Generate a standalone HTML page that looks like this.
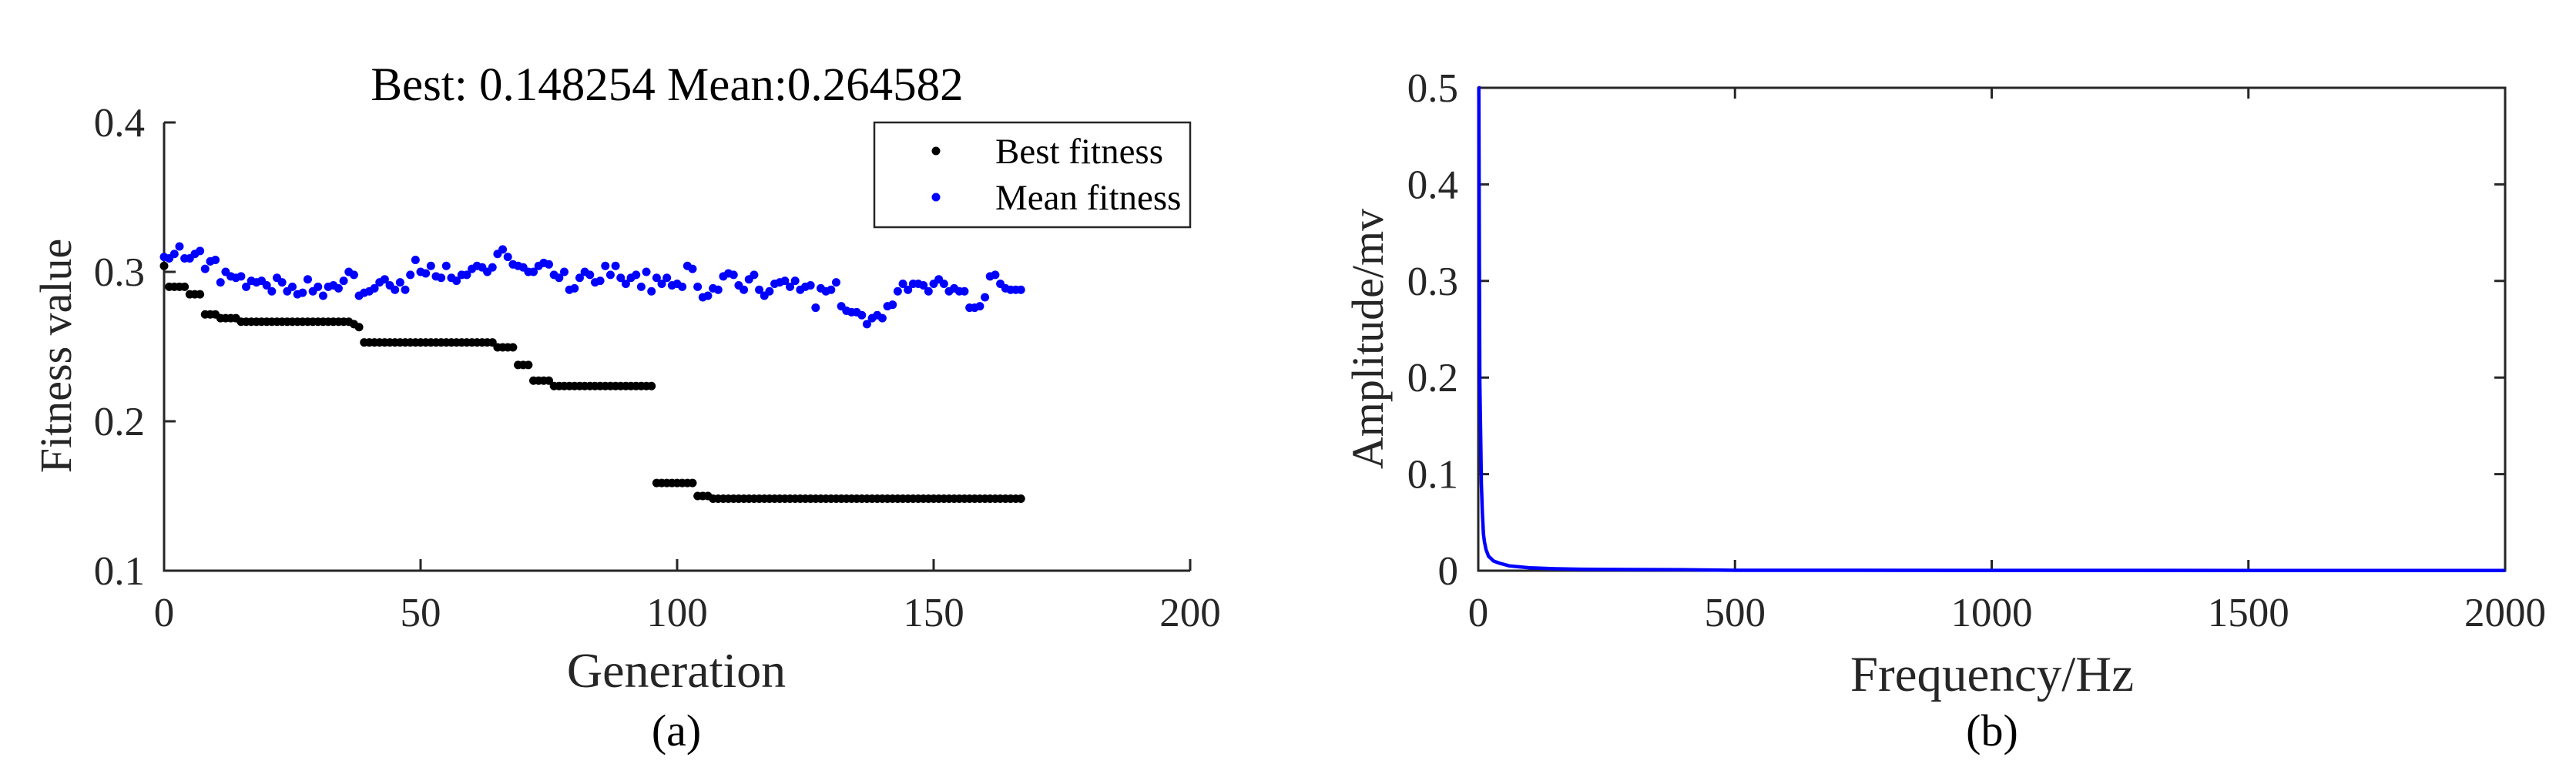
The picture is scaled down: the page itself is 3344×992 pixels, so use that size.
<!DOCTYPE html>
<html><head><meta charset="utf-8"><style>
html,body{margin:0;padding:0;background:#fff;}
svg{display:block;font-family:"Liberation Serif",serif;}
</style></head><body>
<svg id="fig" width="3344" height="992" viewBox="0 0 3344 992">
<g id="pa"></g>
<g id="pb"></g>
</svg>
<script>
const genTicks=[0,50,100,150,200];
const fitTicks=[0.1,0.2,0.3,0.4];
const fitTickLabels=["0.1","0.2","0.3","0.4"];
const bestFitness=[0.304,0.290,0.290,0.290,0.290,0.285,0.285,0.285,0.2715,0.2715,0.2715,0.269,0.269,0.269,0.269,
0.2666,0.2666,0.2666,0.2666,0.2666,0.2666,0.2666,0.2666,0.2666,0.2666,0.2666,0.2666,0.2666,0.2666,0.2666,0.2666,0.2666,0.2666,0.2666,0.2666,0.2666,0.2666,
0.265,0.263,
0.2528,0.2528,0.2528,0.2528,0.2528,0.2528,0.2528,0.2528,0.2528,0.2528,0.2528,0.2528,0.2528,0.2528,0.2528,0.2528,0.2528,0.2528,0.2528,0.2528,0.2528,0.2528,0.2528,0.2528,0.2528,0.2528,
0.2495,0.2495,0.2495,0.2495,0.2377,0.2377,0.2377,0.2272,0.2272,0.2272,0.2272,
0.2236,0.2236,0.2236,0.2236,0.2236,0.2236,0.2236,0.2236,0.2236,0.2236,0.2236,0.2236,0.2236,0.2236,0.2236,0.2236,0.2236,0.2236,0.2236,0.2236,
0.1587,0.1587,0.1587,0.1587,0.1587,0.1587,0.1587,0.1587,0.150,0.150,0.150,
0.1482,0.1482,0.1482,0.1482,0.1482,0.1482,0.1482,0.1482,0.1482,0.1482,0.1482,0.1482,0.1482,0.1482,0.1482,0.1482,0.1482,0.1482,0.1482,0.1482,
0.1482,0.1482,0.1482,0.1482,0.1482,0.1482,0.1482,0.1482,0.1482,0.1482,0.1482,0.1482,0.1482,0.1482,0.1482,0.1482,0.1482,0.1482,0.1482,0.1482,
0.1482,0.1482,0.1482,0.1482,0.1482,0.1482,0.1482,0.1482,0.1482,0.1482,0.1482,0.1482,0.1482,0.1482,0.1482,0.1482,0.1482,0.1482,0.1482,0.1482,0.1482];
const meanFitness=[0.310,0.309,0.312,0.317,0.309,0.309,0.312,0.314,0.302,0.307,
0.308,0.293,0.300,0.297,0.296,0.297,0.290,0.294,0.293,0.294,
0.291,0.287,0.296,0.293,0.287,0.290,0.285,0.286,0.295,0.287,
0.290,0.284,0.290,0.291,0.289,0.294,0.300,0.298,0.284,0.286,
0.287,0.289,0.293,0.295,0.291,0.288,0.293,0.288,0.298,0.308,
0.300,0.299,0.304,0.297,0.296,0.304,0.296,0.294,0.298,0.298,
0.302,0.304,0.303,0.300,0.303,0.312,0.315,0.310,0.305,0.304,
0.303,0.300,0.300,0.304,0.306,0.305,0.298,0.296,0.300,0.288,
0.289,0.296,0.300,
0.298,0.293,0.294,0.304,0.298,0.304,0.296,0.292,0.296,0.298,
0.290,0.300,0.287,0.296,0.292,0.296,0.291,0.292,0.290,0.304,
0.302,0.290,0.283,0.284,0.289,0.288,0.297,0.299,0.298,0.291,
0.288,0.295,0.298,0.288,0.284,0.287,0.292,0.293,0.294,0.290,
0.294,0.288,0.290,0.291,0.276,0.289,0.287,0.288,0.293,0.277,
0.274,0.273,0.273,0.271,0.265,0.269,0.271,0.269,0.277,0.278,
0.287,0.292,0.288,0.292,0.292,0.291,0.287,0.292,0.295,0.292,
0.287,0.289,0.287,0.287,0.276,0.276,0.277,0.283,0.297,0.298,
0.292,0.289,0.288,0.288,0.288];
const freqTicks=[0,500,1000,1500,2000];
const ampTicks=[0,0.1,0.2,0.3,0.4,0.5];
const ampTickLabels=["0","0.1","0.2","0.3","0.4","0.5"];
const freqs=[0,1,2,3,4,5,6,8,10,12,15,20,30,40,60,80,100,150,200,300,400,500,1000,1500,2000];
const amps=[0.5,0.5,0.35,0.195,0.16,0.13,0.09,0.06,0.038,0.03,0.022,0.015,0.010,0.008,0.005,0.004,0.003,0.002,0.0015,0.0012,0.001,0.0004,0.0003,0.0002,0.0002];

const NS="http://www.w3.org/2000/svg";
function mk(parent,tag,attrs,text){const e=document.createElementNS(NS,tag);for(const k in attrs)e.setAttribute(k,attrs[k]);if(text!==undefined)e.textContent=text;parent.appendChild(e);return e;}
const AX="#262626";

// ---- chart (a)
const pa=document.getElementById('pa');
const ax0=213,ax1=1545,ay0=741,ay1=159;
const xa=g=>ax0+(g-0)/(200-0)*(ax1-ax0);
const ya=v=>ay0-(v-0.1)/(0.4-0.1)*(ay0-ay1);
let t=mk(pa,'text',{x:866,y:130,'text-anchor':'middle','font-size':61,fill:'#000'},'Best: 0.148254 Mean:0.264582');


let l=mk(pa,'line',{x1:ax0,y1:ay0,x2:ax1,y2:ay0,stroke:AX,'stroke-width':3});


l=mk(pa,'line',{x1:ax0,y1:ay0+1.5,x2:ax0,y2:ay1,stroke:AX,'stroke-width':3});


genTicks.forEach(g=>{
  const tk=mk(pa,'line',{x1:xa(g),y1:ay0,x2:xa(g),y2:ay0-15,stroke:AX,'stroke-width':3});
  
  
  const tl=mk(pa,'text',{x:xa(g),y:ay0+72,'text-anchor':'middle','font-size':53,fill:AX},String(g));
  
  
});
fitTicks.forEach((v,i)=>{
  const tk=mk(pa,'line',{x1:ax0,y1:ya(v),x2:ax0+15,y2:ya(v),stroke:AX,'stroke-width':3});
  
  
  const tl=mk(pa,'text',{x:188,y:ya(v)+18,'text-anchor':'end','font-size':53,fill:AX},fitTickLabels[i]);
  
  
});
t=mk(pa,'text',{x:878,y:892,'text-anchor':'middle','font-size':64,fill:AX},'Generation');


t=mk(pa,'text',{x:0,y:0,'text-anchor':'middle','font-size':58,fill:AX,transform:'translate(92,462) rotate(-90)'},'Fitness value');


t=mk(pa,'text',{x:878,y:968,'text-anchor':'middle','font-size':58,fill:'#000'},'(a)');


meanFitness.forEach((v,i)=>{
  const c=mk(pa,'ellipse',{cx:xa(i),cy:ya(v),rx:5.5,ry:5.5,fill:'#0000ff'});
  
  
});
bestFitness.forEach((v,i)=>{
  const c=mk(pa,'ellipse',{cx:xa(i),cy:ya(v),rx:5.5,ry:5.5,fill:'#000'});
  
  
});
const lg=mk(pa,'g',{});


mk(lg,'rect',{x:1135,y:159,width:410,height:136,fill:'#fff',stroke:AX,'stroke-width':2.5});
let e=mk(lg,'ellipse',{cx:1215,cy:196,rx:5.5,ry:5.5,fill:'#000'});


t=mk(lg,'text',{x:1292,y:212,'font-size':47,fill:'#000'},'Best fitness');


e=mk(lg,'ellipse',{cx:1215,cy:256,rx:5.5,ry:5.5,fill:'#0000ff'});


t=mk(lg,'text',{x:1292,y:272,'font-size':47,fill:'#000'},'Mean fitness');



// ---- chart (b)
const pb=document.getElementById('pb');
const bx0=1919,bx1=3252,by0=741,by1=114;
const xb=f=>bx0+f/2000*(bx1-bx0);
const yb=v=>by0-v/0.5*(by0-by1);
let r=mk(pb,'rect',{x:bx0,y:by1,width:bx1-bx0,height:by0-by1,fill:'none',stroke:AX,'stroke-width':3});


freqTicks.forEach(f=>{
  const tk=mk(pb,'path',{d:`M${xb(f)},${by0}v-14M${xb(f)},${by1}v14`,stroke:AX,'stroke-width':3});
  
  
  const tl=mk(pb,'text',{x:xb(f),y:by0+72,'text-anchor':'middle','font-size':53,fill:AX},String(f));
  
  
});
ampTicks.forEach((v,i)=>{
  const tk=mk(pb,'path',{d:`M${bx0},${yb(v)}h14M${bx1},${yb(v)}h-14`,stroke:AX,'stroke-width':3});
  
  
  const tl=mk(pb,'text',{x:1893,y:yb(v)+18,'text-anchor':'end','font-size':53,fill:AX},ampTickLabels[i]);
  
  
});
const pts=freqs.map((f,i)=>`${xb(f).toFixed(1)},${yb(amps[i]).toFixed(1)}`).join(' ');
const sp=mk(pb,'polyline',{points:pts,fill:'none',stroke:'#0000ff','stroke-width':4.5});


t=mk(pb,'text',{x:2586,y:897,'text-anchor':'middle','font-size':65,fill:AX},'Frequency/Hz');


t=mk(pb,'text',{x:0,y:0,'text-anchor':'middle','font-size':58,fill:AX,transform:'translate(1795,440) rotate(-90)'},'Amplitude/mv');


t=mk(pb,'text',{x:2586,y:968,'text-anchor':'middle','font-size':58,fill:'#000'},'(b)');


</script>
</body></html>
